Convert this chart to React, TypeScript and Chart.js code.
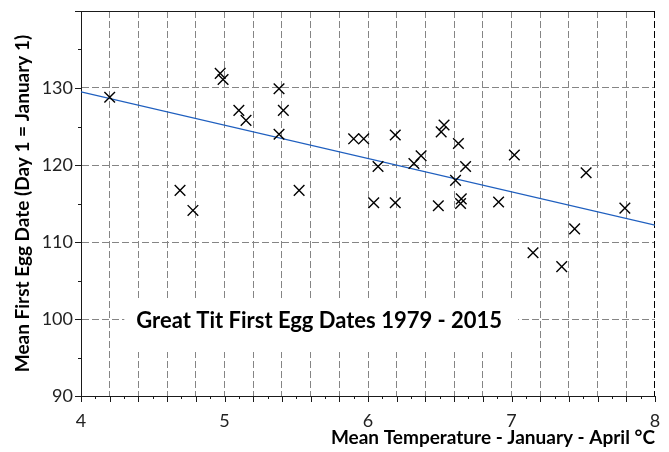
import React, { useEffect, useRef } from "react";
import { Chart, registerables } from "chart.js";

Chart.register(...registerables);

// Mean Jan-Apr temperature (°C)
const tempC = [4.2, 4.69, 4.78, 4.97, 4.99, 5.1, 5.15, 5.38, 5.41, 5.38, 5.52, 5.9, 5.97, 6.04, 6.07, 6.19, 6.19, 6.32, 6.37, 6.49, 6.51, 6.53, 6.61, 6.63, 6.645, 6.65, 6.68, 6.91, 7.02, 7.15, 7.35, 7.44, 7.52, 7.79];
// Mean first egg date (day of year)
const eggDay = [128.8, 116.7, 114.1, 131.9, 131.1, 127.1, 125.8, 129.9, 127.1, 124.0, 116.7, 123.4, 123.4, 115.1, 119.8, 123.9, 115.1, 120.2, 121.2, 114.7, 124.3, 125.2, 118.0, 122.8, 115.0, 115.6, 119.8, 115.2, 121.3, 108.6, 106.8, 111.7, 119.0, 114.4];
// Regression line end points
const trendX = [4, 8];
const trendY = [129.5, 112.2];

const xMin = 4;
const xMax = 8;
const yMin = 90;
const yMax = 140;
const chartTitle = "Great Tit First Egg Dates 1979 - 2015";
const titleAt = { x: 5.66, y: 100 };
const xAxisTitle = "Mean Temperature - January - April °C";
const yAxisTitle = "Mean First Egg Date (Day 1 = January 1)";

const FONT = "Lato";
const GRID = "#858585";

const near = (a: number, b: number) => Math.abs(a - b) < 1e-6;

const framePlugin = {
  id: "frame",
  beforeDatasetsDraw(chart: any) {
    const { ctx, chartArea } = chart;
    const { left, right, top, bottom } = chartArea;
    const xs = chart.scales.x;
    const ys = chart.scales.y;
    ctx.save();
    // title box
    ctx.font = `bold 22px ${FONT}`;
    const cx = xs.getPixelForValue(titleAt.x);
    const cy = ys.getPixelForValue(titleAt.y);
    const tw = ctx.measureText(chartTitle).width;
    ctx.fillStyle = "#ffffff";
    ctx.fillRect(cx - tw / 2 - 12, cy - 21, tw + 28, 54);
    ctx.fillStyle = "#000000";
    ctx.textAlign = "center";
    ctx.textBaseline = "middle";
    ctx.fillText(chartTitle, cx, cy + 2);

    // top border
    ctx.strokeStyle = "#1a1a1a";
    ctx.lineWidth = 1;
    ctx.beginPath();
    ctx.moveTo(left, top + 0.5);
    ctx.lineTo(right, top + 0.5);
    ctx.stroke();
    // right dashed border
    ctx.strokeStyle = "#000000";
    ctx.setLineDash([7, 3]);
    ctx.beginPath();
    ctx.moveTo(right - 0.5, top);
    ctx.lineTo(right - 0.5, bottom);
    ctx.stroke();
    ctx.setLineDash([]);

    // x tick marks
    ctx.strokeStyle = "#1a1a1a";
    for (let i = 0; i <= 40; i++) {
      const v = xMin + i * 0.1;
      const px = Math.round(xs.getPixelForValue(v)) + 0.5;
      const len = i % 2 === 0 ? 6 : 3;
      ctx.beginPath();
      ctx.moveTo(px, bottom);
      ctx.lineTo(px, bottom + len);
      ctx.stroke();
    }
    // y tick marks
    for (let v = yMin; v <= yMax; v += 5) {
      const py = Math.round(ys.getPixelForValue(v)) + 0.5;
      const len = v % 10 === 0 ? 6 : 3;
      ctx.beginPath();
      ctx.moveTo(left, py);
      ctx.lineTo(left - len, py);
      ctx.stroke();
    }
    ctx.restore();
  },
};

export default function App() {
  const canvasRef = useRef<HTMLCanvasElement>(null);

  useEffect(() => {
    if (!canvasRef.current) return;
    const points = tempC.map((t, i) => ({ x: t, y: eggDay[i] }));
    const trend = trendX.map((t, i) => ({ x: t, y: trendY[i] }));
    const chart = new Chart(canvasRef.current, {
      type: "scatter",
      data: {
        datasets: [
          {
            label: "Egg dates",
            data: points,
            pointStyle: "crossRot",
            pointRadius: 7.5,
            pointHoverRadius: 7.5,
            borderColor: "#000000",
            backgroundColor: "#000000",
            pointBorderWidth: 1.4,
          },
          {
            type: "line",
            label: "Trend",
            data: trend,
            borderColor: "#1f5fbf",
            borderWidth: 1.3,
            pointRadius: 0,
            fill: false,
          } as any,
        ],
      },
      options: {
        responsive: false,
        maintainAspectRatio: false,
        animation: false,
        devicePixelRatio: 1,
        layout: { padding: { left: 0, top: 11, right: 14, bottom: 0 } },
        plugins: {
          legend: { display: false },
          tooltip: { enabled: false },
          title: { display: false },
        },
        scales: {
          x: {
            type: "linear",
            min: xMin,
            max: xMax,
            afterFit: (s: any) => {
              s.height = 56;
              s.paddingLeft = 0;
              s.paddingRight = 0;
            },
            ticks: {
              stepSize: 0.1,
              autoSkip: false,
              maxRotation: 0,
              padding: 14,
              color: "#222222",
              font: { family: FONT, size: 18 },
              callback: (v: any) => {
                const n = Number(v);
                return Math.abs(n - Math.round(n)) < 1e-6 ? String(Math.round(n)) : "";
              },
            },
            grid: {
              drawTicks: false,
              lineWidth: 1,
              color: (ctx: any) => {
                const v = ctx.tick ? ctx.tick.value : 0;
                if (near(v, xMin) || near(v, xMax)) return "transparent";
                const k = Math.round(v * 10);
                return k % 2 === 0 ? GRID : "transparent";
              },
            },
            border: { display: true, color: "#1a1a1a", width: 1, dash: [7, 3] },
            title: {
              display: true,
              text: xAxisTitle,
              align: "end",
              color: "#000000",
              font: { family: FONT, size: 19, weight: "bold" },
              padding: { top: 0, bottom: 3 },
            },
          },
          y: {
            type: "linear",
            min: yMin,
            max: yMax,
            afterFit: (s: any) => {
              s.width = 81;
              s.paddingTop = 0;
              s.paddingBottom = 0;
            },
            ticks: {
              stepSize: 5,
              autoSkip: false,
              padding: 8,
              color: "#222222",
              font: { family: FONT, size: 18 },
              callback: (v: any) => {
                const n = Number(v);
                return n % 10 === 0 && n < yMax ? String(n) : "";
              },
            },
            grid: {
              drawTicks: false,
              lineWidth: 1,
              color: (ctx: any) => {
                const v = ctx.tick ? ctx.tick.value : 0;
                if (near(v, yMin) || near(v, yMax)) return "transparent";
                return Math.round(v) % 10 === 0 ? GRID : "transparent";
              },
            },
            border: { display: true, color: "#1a1a1a", width: 1, dash: [7, 3] },
            title: {
              display: true,
              text: yAxisTitle,
              color: "#000000",
              font: { family: FONT, size: 19, weight: "bold" },
              padding: { top: 11, bottom: 0 },
            },
          },
        },
      },
      plugins: [framePlugin],
    } as any);
    return () => chart.destroy();
  }, []);

  return (
    <div style={{ position: "absolute", left: 0, top: 0, width: 669, height: 452, background: "#ffffff" }}>
      <canvas ref={canvasRef} width={669} height={452} />
    </div>
  );
}
